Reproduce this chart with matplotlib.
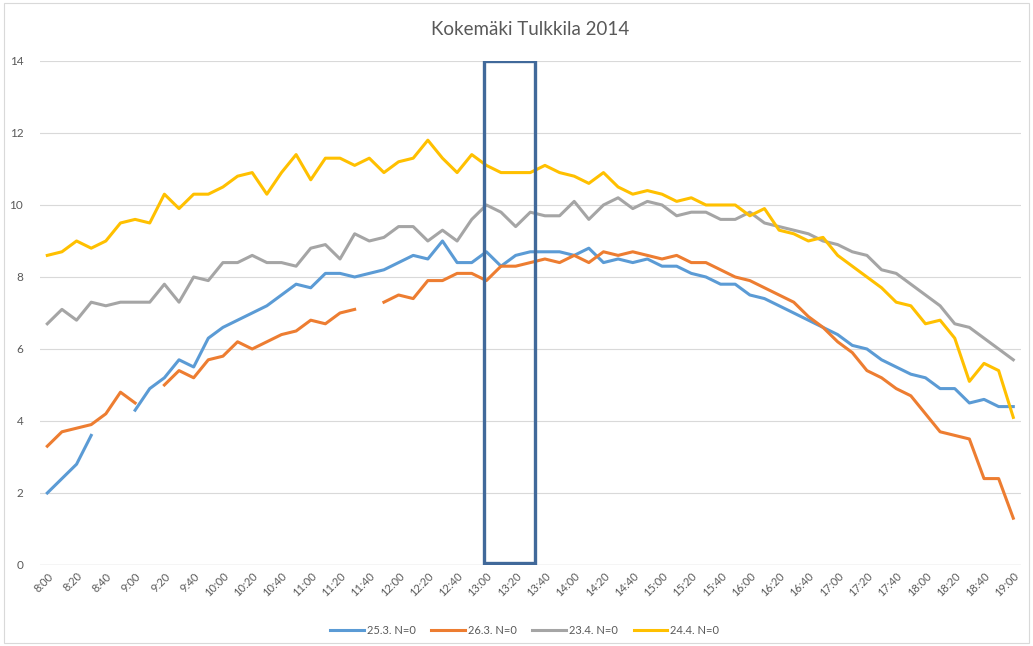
import matplotlib
matplotlib.use('Agg')
import matplotlib.pyplot as plt
import numpy as np
from matplotlib.patches import Rectangle

nan = np.nan

# time labels 8:00 .. 19:00 every 10 min
times = [f'{h}:{m:02d}' for h in range(8, 20) for m in range(0, 60, 10)][:67]

s_25_3 = [2.0, 2.4, 2.8, 3.6, nan, nan, 4.3, 4.9, 5.2, 5.7, 5.5, 6.3, 6.6, 6.8, 7.0, 7.2,
          7.5, 7.8, 7.7, 8.1, 8.1, 8.0, 8.1, 8.2, 8.4, 8.6, 8.5, 9.0, 8.4, 8.4, 8.7, 8.3,
          8.6, 8.7, 8.7, 8.7, 8.6, 8.8, 8.4, 8.5, 8.4, 8.5, 8.3, 8.3, 8.1, 8.0, 7.8, 7.8,
          7.5, 7.4, 7.2, 7.0, 6.8, 6.6, 6.4, 6.1, 6.0, 5.7, 5.5, 5.3, 5.2, 4.9, 4.9, 4.5,
          4.6, 4.4, 4.4]
s_26_3 = [3.3, 3.7, 3.8, 3.9, 4.2, 4.8, 4.5, nan, 5.0, 5.4, 5.2, 5.7, 5.8, 6.2, 6.0, 6.2,
          6.4, 6.5, 6.8, 6.7, 7.0, 7.1, nan, 7.3, 7.5, 7.4, 7.9, 7.9, 8.1, 8.1, 7.9, 8.3,
          8.3, 8.4, 8.5, 8.4, 8.6, 8.4, 8.7, 8.6, 8.7, 8.6, 8.5, 8.6, 8.4, 8.4, 8.2, 8.0,
          7.9, 7.7, 7.5, 7.3, 6.9, 6.6, 6.2, 5.9, 5.4, 5.2, 4.9, 4.7, 4.2, 3.7, 3.6, 3.5,
          2.4, 2.4, 1.3]
s_23_4 = [6.7, 7.1, 6.8, 7.3, 7.2, 7.3, 7.3, 7.3, 7.8, 7.3, 8.0, 7.9, 8.4, 8.4, 8.6, 8.4,
          8.4, 8.3, 8.8, 8.9, 8.5, 9.2, 9.0, 9.1, 9.4, 9.4, 9.0, 9.3, 9.0, 9.6, 10.0, 9.8,
          9.4, 9.8, 9.7, 9.7, 10.1, 9.6, 10.0, 10.2, 9.9, 10.1, 10.0, 9.7, 9.8, 9.8, 9.6, 9.6,
          9.8, 9.5, 9.4, 9.3, 9.2, 9.0, 8.9, 8.7, 8.6, 8.2, 8.1, 7.8, 7.5, 7.2, 6.7, 6.6,
          6.3, 6.0, 5.7]
s_24_4 = [8.6, 8.7, 9.0, 8.8, 9.0, 9.5, 9.6, 9.5, 10.3, 9.9, 10.3, 10.3, 10.5, 10.8, 10.9, 10.3,
          10.9, 11.4, 10.7, 11.3, 11.3, 11.1, 11.3, 10.9, 11.2, 11.3, 11.8, 11.3, 10.9, 11.4, 11.1, 10.9,
          10.9, 10.9, 11.1, 10.9, 10.8, 10.6, 10.9, 10.5, 10.3, 10.4, 10.3, 10.1, 10.2, 10.0, 10.0, 10.0,
          9.7, 9.9, 9.3, 9.2, 9.0, 9.1, 8.6, 8.3, 8.0, 7.7, 7.3, 7.2, 6.7, 6.8, 6.3, 5.1,
          5.6, 5.4, 4.1]

series = [('25.3. N=0', s_25_3, '#5B9BD5'),
          ('26.3. N=0', s_26_3, '#ED7D31'),
          ('23.4. N=0', s_23_4, '#A5A5A5'),
          ('24.4. N=0', s_24_4, '#FFC000')]

# highlighted window (category positions)
box_x0, box_x1 = 29.82, 33.31
box_y0, box_y1 = 0.05, 14.0

plt.rcParams['font.family'] = ['Lato', 'DejaVu Sans']
txt = '#595959'

fig = plt.figure(figsize=(10.33, 6.46), dpi=100)
ax = fig.add_axes([0.0387, 0.1254, 0.9493, 0.7802])

x = np.arange(len(times))
for label, vals, col in series:
    ax.plot(x, vals, color=col, lw=2.2, label=label, solid_joinstyle='round')

ax.add_patch(Rectangle((box_x0, box_y0), box_x1 - box_x0, box_y1 - box_y0,
                       fill=False, ec='#41699A', lw=2.4, zorder=5))

ax.set_xlim(-0.5, len(times) - 0.5)
ax.set_ylim(0, 14)
ax.set_yticks(range(0, 15, 2))
ax.set_xticks(x[::2])
ax.set_xticklabels(times[::2], rotation=45, ha='right', rotation_mode='anchor',
                   fontsize=8, color=txt)
ax.tick_params(axis='y', labelsize=8.5, labelcolor=txt, length=0, pad=12)
ax.tick_params(axis='x', length=0, pad=4)
ax.grid(axis='y', color='#D9D9D9', lw=0.8)
ax.set_axisbelow(True)
for s in ax.spines.values():
    s.set_visible(False)
ax.axhline(0, color='#D9D9D9', lw=1.0, zorder=0)

ax.set_title('Kokemäki Tulkkila 2014', fontsize=13.5, color=txt, pad=19)

fig.legend(loc='lower center', bbox_to_anchor=(0.508, 0.0), ncol=4, frameon=False,
           fontsize=8, labelcolor=txt, handlelength=3.0, columnspacing=1.4,
           handletextpad=0.3)

fig.add_artist(Rectangle((0.004, 0.004), 0.992, 0.992, transform=fig.transFigure,
                         fill=False, ec='#D9D9D9', lw=0.8))

fig.savefig('out.png', dpi=100)
